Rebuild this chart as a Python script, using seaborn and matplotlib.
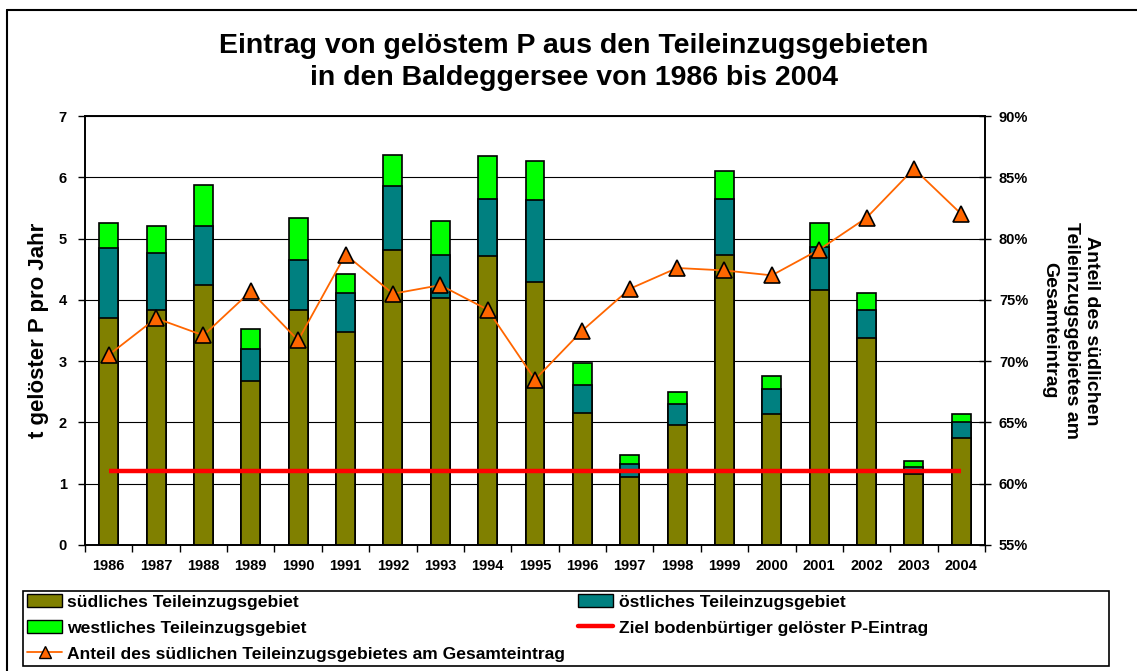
import numpy as np
import pandas as pd
import matplotlib
matplotlib.use("Agg")
import matplotlib.pyplot as plt
from matplotlib.lines import Line2D
from matplotlib.patches import Patch, Rectangle
import seaborn as sns

# --- data ---
years = [1986, 1987, 1988, 1989, 1990, 1991, 1992, 1993, 1994, 1995,
         1996, 1997, 1998, 1999, 2000, 2001, 2002, 2003, 2004]
sued = [3.71, 3.83, 4.25, 2.68, 3.83, 3.48, 4.81, 4.03, 4.72, 4.29,
        2.16, 1.11, 1.95, 4.73, 2.13, 4.16, 3.37, 1.16, 1.75]
oest = [1.14, 0.93, 0.95, 0.52, 0.82, 0.64, 1.05, 0.70, 0.93, 1.34,
        0.45, 0.21, 0.35, 0.91, 0.41, 0.71, 0.47, 0.12, 0.25]
west = [0.41, 0.44, 0.68, 0.33, 0.68, 0.30, 0.50, 0.55, 0.70, 0.63,
        0.36, 0.15, 0.20, 0.47, 0.22, 0.38, 0.27, 0.09, 0.13]
anteil_sued = [70.5, 73.5, 72.1, 75.7, 71.7, 78.7, 75.5, 76.2, 74.2, 68.5,
               72.5, 75.9, 77.6, 77.4, 77.0, 79.1, 81.7, 85.7, 82.0]
ziel = 1.2

c_sued = "#808000"
c_oest = "#008080"
c_west = "#00FF00"
c_ziel = "#FF0000"
c_anteil = "#FF6600"

sns.set_theme(style="white")
plt.rcParams["font.family"] = ["Liberation Sans", "DejaVu Sans"]
plt.rcParams["font.weight"] = "bold"
plt.rcParams["text.color"] = "black"
plt.rcParams["axes.labelcolor"] = "black"
plt.rcParams["xtick.color"] = "black"
plt.rcParams["ytick.color"] = "black"

df = pd.DataFrame({"Jahr": [str(y) for y in years], "sued": sued, "oest": oest, "west": west})
df["s_o"] = df["sued"] + df["oest"]
df["total"] = df["s_o"] + df["west"]

fig = plt.figure(figsize=(11.37, 6.71), dpi=100)
ax = fig.add_axes([85 / 1137, 1 - 545 / 671, 900 / 1137, 429 / 671])

# gestapelte Balken: von hinten nach vorne zeichnen
for col, c in [("total", c_west), ("s_o", c_oest), ("sued", c_sued)]:
    sns.barplot(data=df, x="Jahr", y=col, color=c, width=0.4, edgecolor="black",
                linewidth=1.2, saturation=1, ax=ax, zorder=3)

ax.hlines(ziel, 0, len(years) - 1, color=c_ziel, lw=3.2, zorder=5)

ax.set_xlim(-0.5, len(years) - 0.5)
ax.set_ylim(0, 7)
ax.set_yticks(range(0, 8))
ax.set_xlabel("")
ax.set_ylabel("t gelöster P pro Jahr", fontsize=16, fontweight="bold", labelpad=7)
ax.grid(True, axis="y", color="black", lw=0.8, zorder=0)
ax.set_axisbelow(True)
for s in ax.spines.values():
    s.set_color("black")
    s.set_linewidth(1.2)
ax.tick_params(axis="y", direction="out", length=5, width=1,
               labelsize=10.5, pad=8, left=True)
ax.tick_params(axis="x", which="major", length=0, labelsize=10.5, pad=10)
ax.set_xticks(np.arange(-0.5, len(years), 1), minor=True)
ax.tick_params(axis="x", which="minor", direction="out", length=5, width=1, bottom=True)
for lab in ax.get_xticklabels() + ax.get_yticklabels():
    lab.set_fontweight("bold")

# Anteil auf rechter Achse
ax2 = ax.twinx()
sns.lineplot(x=np.arange(len(years)), y=anteil_sued, color=c_anteil, lw=1.3,
             marker="^", markersize=11, markerfacecolor=c_anteil,
             markeredgecolor="black", markeredgewidth=1.2, ax=ax2, zorder=6)
ax2.set_ylim(55, 90)
ax2.set_yticks(range(55, 91, 5))
ax2.set_yticklabels([f"{v}%" for v in range(55, 91, 5)], fontweight="bold")
ax2.tick_params(axis="y", direction="inout", length=8, width=1,
                labelsize=10.5, pad=6, right=True)
ax2.set_ylabel("Anteil des südlichen\nTeileinzugsgebietes am\nGesamteintrag",
               rotation=-90, fontsize=14, fontweight="bold", labelpad=52,
               linespacing=1.3)
for s in ax2.spines.values():
    s.set_color("black")
    s.set_linewidth(1.2)
ax2.grid(False)

fig.text(574 / 1137, 1 - 62 / 671,
         "Eintrag von gelöstem P aus den Teileinzugsgebieten\nin den Baldeggersee von 1986 bis 2004",
         ha="center", va="center", fontsize=20.5, fontweight="bold", linespacing=1.3)

# Rahmen um das ganze Diagramm
fig.add_artist(Line2D([7 / 1137, 7 / 1137], [0, 1 - 10 / 671], color="black", lw=1.5))
fig.add_artist(Line2D([7 / 1137, 1], [1 - 10 / 671, 1 - 10 / 671], color="black", lw=1.5))

# Legende
fig.add_artist(Rectangle((23 / 1137, 1 - 666 / 671), (1109 - 23) / 1137, 75 / 671,
                         transform=fig.transFigure, fill=False, edgecolor="black", lw=1.2))
handles = [
    Patch(facecolor=c_sued, edgecolor="black", label="südliches Teileinzugsgebiet"),
    Patch(facecolor=c_oest, edgecolor="black", label="östliches Teileinzugsgebiet"),
    Patch(facecolor=c_west, edgecolor="black", label="westliches Teileinzugsgebiet"),
    Line2D([], [], color=c_ziel, lw=3.2, label="Ziel bodenbürtiger gelöster P-Eintrag"),
    Line2D([], [], color=c_anteil, lw=1.3, marker="^", markersize=9,
           markerfacecolor=c_anteil, markeredgecolor="black",
           label="Anteil des südlichen Teileinzugsgebietes am Gesamteintrag"),
]
order = [0, 2, 4, 1, 3]
leg = fig.legend([handles[i] for i in order], [handles[i].get_label() for i in order],
                 loc="upper left", bbox_to_anchor=(27 / 1137, 1 - 594 / 671), ncol=2,
                 frameon=False, handlelength=2.0, handleheight=0.8, handletextpad=0.3,
                 columnspacing=0.75, labelspacing=0.58, borderaxespad=0, borderpad=0.0,
                 prop={"weight": "bold", "size": 12.6})

fig.savefig("out.png", dpi=100)
